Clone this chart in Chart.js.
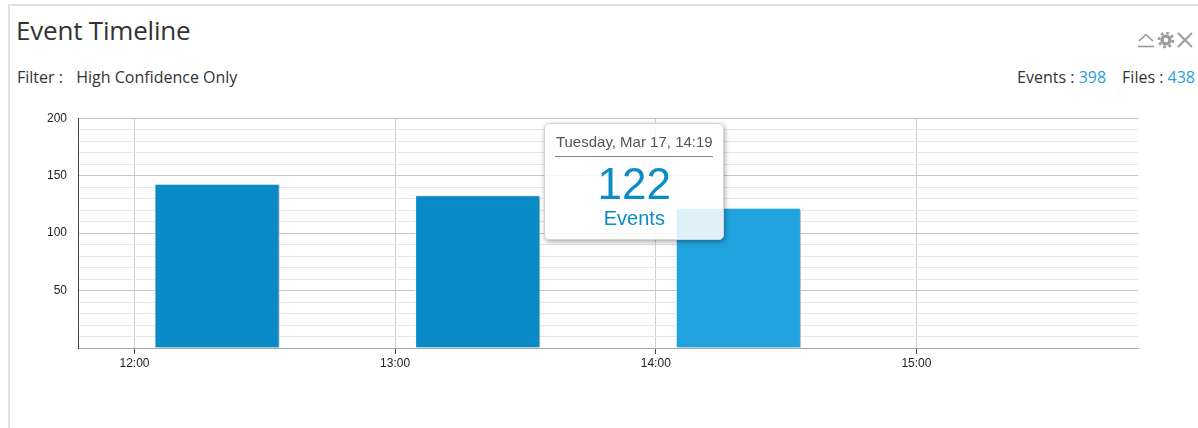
<!DOCTYPE html>
<html>
<head>
<meta charset="utf-8">
<title>Event Timeline</title>
<script src="https://cdn.jsdelivr.net/npm/chart.js@4.4.1/dist/chart.umd.min.js"></script>
<style>
  html, body { margin: 0; padding: 0; background: #fff; }
  body { width: 1198px; height: 428px; overflow: hidden; position: relative; font-family: "Open Sans", sans-serif; color: #333; }
  .panel { position: absolute; left: 8px; top: 4px; right: -10px; bottom: -10px; border-top: 2px solid #e2e2e2; border-left: 2px solid #e2e2e2; }
  h1 { position: absolute; left: 16px; top: 12px; margin: 0; font-size: 26px; font-weight: 400; color: #333; letter-spacing: -0.2px; }
  .filter { position: absolute; left: 17px; top: 66px; font-size: 16px; }
  .filter span { margin-left: 5px; }
  .counts { position: absolute; right: 3px; top: 66px; font-size: 16px; }
  .counts b { font-weight: 400; color: #2a9fd8; }
  .counts .files { margin-left: 16px; }
  .icons { position: absolute; left: 1137px; top: 31px; }
  .icons svg { display: inline-block; vertical-align: top; }
  #wrap { position: absolute; left: 0; top: 100px; width: 1198px; height: 290px; }
  #tip { position: absolute; display: none; width: 178px; height: 115px; box-sizing: content-box;
         border: 1px solid #d4d4d4; border-radius: 5px; background: rgba(255,255,255,0.85);
         box-shadow: 1px 2px 5px rgba(0,0,0,0.35); text-align: center; font-family: Arial, "Liberation Sans", sans-serif; }
  #tip .t-title { margin: 10px 10px 0; height: 16px; line-height: 16px; padding-bottom: 6px; border-bottom: 1px solid #8a8a8a; font-size: 15px; color: #555; white-space: nowrap; }
  #tip .t-val { margin-top: 5px; font-size: 44px; line-height: 44px; color: #0a8cc6; }
  #tip .t-name { margin-top: 2px; font-size: 20px; line-height: 20px; color: #0a8cc6; }
</style>
</head>
<body>
<div class="panel"></div>
<h1>Event Timeline</h1>
<div class="filter">Filter : &nbsp;<span>High Confidence Only</span></div>
<div class="counts">Events : <b>398</b><span class="files">Files : <b>438</b></span></div>
<div class="icons">
  <svg width="19" height="18" viewBox="0 0 19 18"><polyline points="2,10 9,3.5 16,10" fill="none" stroke="#9a9a9a" stroke-width="1.6"/><line x1="1" y1="15.5" x2="17" y2="15.5" stroke="#9a9a9a" stroke-width="1.6"/></svg><svg width="20" height="18" viewBox="0 0 20 18"><circle cx="10" cy="9" r="7" fill="none" stroke="#9a9a9a" stroke-width="2.6" stroke-dasharray="2.75 2.75"/><circle cx="10" cy="9" r="5.6" fill="#9a9a9a"/><circle cx="10" cy="9" r="2.3" fill="#fff"/></svg><svg width="18" height="18" viewBox="0 0 18 18"><line x1="2" y1="2" x2="16" y2="16" stroke="#9a9a9a" stroke-width="1.8"/><line x1="16" y1="2" x2="2" y2="16" stroke="#9a9a9a" stroke-width="1.8"/></svg>
</div>
<div id="wrap">
  <canvas id="timeline" width="1198" height="290"></canvas>
  <div id="tip"><div class="t-title"></div><div class="t-val"></div><div class="t-name"></div></div>
</div>
<script>
// bucket start times (minutes after midnight) and event counts
const barMinutes = [739, 799, 859];
const barTimes = ["12:19", "13:19", "14:19"];
const eventCounts = [143, 133, 122];
const dayLabel = "Tuesday, Mar 17";
const seriesName = "Events";

// axis ticks
const hourMinutes = [720, 780, 840, 900];
const hourLabels = ["12:00", "13:00", "14:00", "15:00"];
const yLabels = [50, 100, 150, 200];

const tip = document.getElementById("tip");

// html tooltip drawn next to the hovered bar
function showTip(context) {
  const model = context.tooltip;
  if (model.opacity === 0 || !model.dataPoints.length) {
    tip.style.display = "none";
    return;
  }
  const i = model.dataPoints[0].dataIndex;
  tip.querySelector(".t-title").textContent = dayLabel + ", " + barTimes[i];
  tip.querySelector(".t-val").textContent = eventCounts[i];
  tip.querySelector(".t-name").textContent = seriesName;
  tip.style.left = (model.caretX - 194) + "px";
  tip.style.top = (model.caretY - 85) + "px";
  tip.style.display = "block";
}

// thin shadow on the right edge of the bars
const barShadow = {
  id: "barShadow",
  beforeDatasetDraw(chart) {
    const c = chart.ctx;
    c.save();
    c.shadowColor = "rgba(0,0,0,0.28)";
    c.shadowOffsetX = 1;
    c.shadowOffsetY = 0;
    c.shadowBlur = 1;
  },
  afterDatasetDraw(chart) {
    chart.ctx.restore();
  }
};

const chart = new Chart(document.getElementById("timeline"), {
  type: "bar",
  data: {
    datasets: [{
      label: seriesName,
      data: barMinutes.map((m, i) => ({ x: m, y: eventCounts[i] })),
      backgroundColor: "#088bc6",
      hoverBackgroundColor: "#21a3df",
      borderColor: "#ffffff",
      hoverBorderColor: "#ffffff",
      borderWidth: 1,
      hoverBorderWidth: 1,
      barPercentage: 0.48,
      categoryPercentage: 1
    }]
  },
  plugins: [barShadow],
  options: {
    responsive: false,
    animation: false,
    events: [],
    layout: { padding: { left: 0, right: 60, top: 18, bottom: 0 } },
    plugins: {
      legend: { display: false },
      tooltip: {
        enabled: false,
        mode: "nearest",
        intersect: true,
        external: showTip
      }
    },
    scales: {
      x: {
        type: "linear",
        offset: false,
        min: 707,
        max: 951,
        afterBuildTicks: (scale) => { scale.ticks = hourMinutes.map(v => ({ value: v })); },
        afterFit: (scale) => { scale.height = 42; },
        ticks: {
          autoSkip: false,
          maxRotation: 0,
          padding: 2,
          color: "#222",
          font: { family: "Arial, 'Liberation Sans', sans-serif", size: 12 },
          callback: (v) => hourLabels[hourMinutes.indexOf(v)] || ""
        },
        grid: { offset: false, color: "#d0d0d0", tickColor: "#444", tickLength: 6, lineWidth: 1 },
        border: { color: "#a8a8a8", width: 1 }
      },
      y: {
        min: 0,
        max: 200,
        afterFit: (scale) => { scale.width = 78; },
        ticks: {
          stepSize: 10,
          autoSkip: false,
          padding: 11,
          color: "#222",
          font: { family: "Arial, 'Liberation Sans', sans-serif", size: 12 },
          callback: (v) => yLabels.includes(v) ? v : ""
        },
        grid: {
          drawTicks: false,
          color: (ctx) => yLabels.includes(ctx.tick.value) ? "#c6c6c6" : "#e6e6e6",
          lineWidth: 1
        },
        border: { color: "#444", width: 1 }
      }
    }
  }
});

// hover state on the last bucket
const hovered = [{ datasetIndex: 0, index: 2 }];
chart.setActiveElements(hovered);
chart.update();
chart.tooltip.setActiveElements(hovered, { x: 0, y: 0 });
</script>
</body>
</html>
